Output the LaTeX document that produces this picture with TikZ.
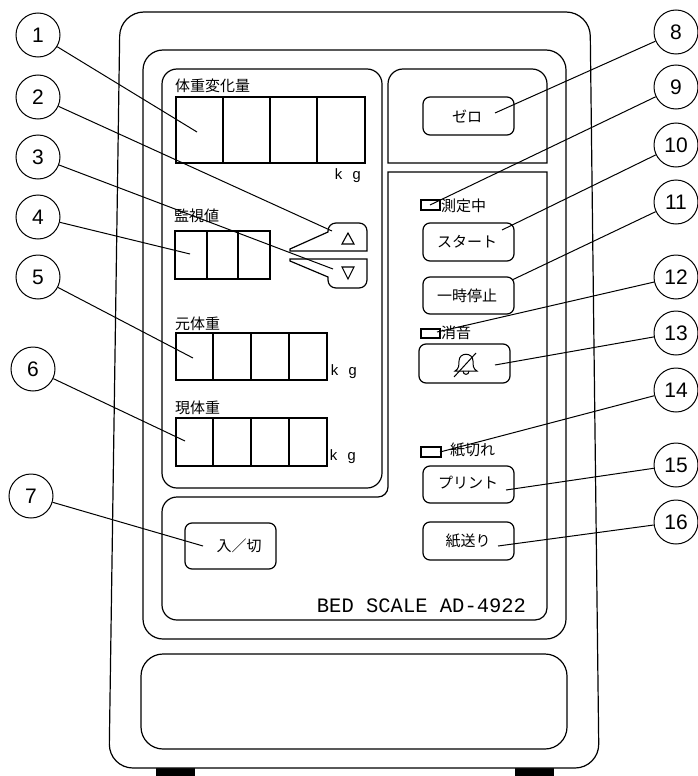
\documentclass[tikz,border=0pt]{standalone}
\usepackage{fontspec}
\newfontfamily\jpf{Noto Sans CJK JP}
\newfontfamily\numf{Liberation Sans}
\newfontfamily\monof{Liberation Mono}
\begin{document}
\begin{tikzpicture}[x=1pt,y=-1pt,
  ln/.style={line width=1.2pt},
  circ/.style={circle,draw,line width=1pt,minimum size=44pt,inner sep=0pt,font=\numf\fontsize{21}{21}\selectfont},
  lead/.style={line width=1pt},
  btn/.style={draw,line width=1.2pt,rounded corners=7pt},
  led/.style={draw,line width=1.2pt},
  jlab/.style={font=\jpf\fontsize{15}{15}\selectfont,inner sep=0pt},
  kg/.style={font=\monof\fontsize{15}{15}\selectfont,inner sep=0pt},
]
\useasboundingbox (0,0) rectangle (697,776);
% feet
\fill (156,766) rectangle (195,776);
\fill (515,766) rectangle (554,776);
% outer body
\draw[ln,fill=white,rounded corners=24pt] (120,12) -- (590,12) -- (599,768) -- (109,768) -- cycle;
% middle frame
\draw[ln,rounded corners=20pt] (143,50) rectangle (566,639);
% left display panel
\draw[ln,rounded corners=15pt] (162,69) rectangle (382,488);
% top right panel
\draw[ln] (388,163) -- (388,84) .. controls (388,75.7) and (394.7,69) .. (403,69) -- (532,69) .. controls (540.3,69) and (547,75.7) .. (547,84) -- (547,163) -- cycle;
% lower right L panel
\draw[ln] (388,172) -- (547,172) -- (547,608) .. controls (547,614.6) and (541.6,620) .. (535,620) -- (177,620) .. controls (168.7,620) and (162,613.3) .. (162,605) -- (162,512) .. controls (162,503.7) and (168.7,497) .. (177,497) -- (378,497) .. controls (383.5,497) and (388,492.5) .. (388,487) -- cycle;
% bottom window
\draw[ln,rounded corners=22pt] (141,654) rectangle (567,749);

% displays
\draw[ln] (176,97) rectangle (365,163) (223,97) -- (223,163) (270,97) -- (270,163) (317,97) -- (317,163);
\draw[ln] (175,231) rectangle (270,279) (207,231) -- (207,279) (238,231) -- (238,279);
\draw[ln] (176,333) rectangle (327,380) (213,333) -- (213,380) (251,333) -- (251,380) (289,333) -- (289,380);
\draw[ln] (176,418) rectangle (327,466) (213,418) -- (213,466) (251,418) -- (251,466) (289,418) -- (289,466);

\node[jlab,anchor=west] (l1) at (175,86) {体重変化量};
\node[jlab,anchor=west] (l2) at (174,216) {監視値};
\node[jlab,anchor=west] (l3) at (175,324) {元体重};
\node[jlab,anchor=west] (l4) at (175,408) {現体重};
\node[kg,anchor=west] (k1) at (334,176) {k g};
\node[kg,anchor=west] (k2) at (330,372) {k g};
\node[kg,anchor=west] (k3) at (329,457) {k g};

% up / down buttons
\draw[ln] (290,251) -- (367,251) -- (367,231) .. controls (367,226.5) and (363.5,223) .. (359,223) -- (336,223) .. controls (331.5,223) and (328,226.5) .. (328,231) -- (328,232) -- (290,249) -- cycle;
\draw[ln] (290,259) -- (367,259) -- (367,280) .. controls (367,284.5) and (363.5,288) .. (359,288) -- (336,288) .. controls (331.5,288) and (328,284.5) .. (328,280) -- (328,277) -- (290,261) -- cycle;
\draw[line width=1.1pt] (342,244) -- (354,244) -- (348,233) -- cycle;
\draw[line width=1.1pt] (342,267) -- (354,267) -- (348,279) -- cycle;

% buttons
\draw[btn] (423,97) rectangle (514,135);
\node[jlab] (bz) at (467,116) {ゼロ};
\draw[btn] (423,223) rectangle (514,261);
\node[jlab] (bs) at (467,242) {スタート};
\draw[btn] (423,277) rectangle (514,314);
\node[jlab] (bp) at (467,296) {一時停止};
\draw[btn] (419,344) rectangle (510,383);
\draw[btn] (423,466) rectangle (514,503);
\node[jlab] (bpr) at (468,483) {プリント};
\draw[btn] (423,522) rectangle (514,560);
\node[jlab] (bf) at (468,541) {紙送り};
\draw[btn] (185,523) rectangle (276,569);
\node[jlab] (bo) at (239,546) {入／切};

% bell icon
\draw[line width=1pt] (455,371) .. controls (459,369) and (459,365) .. (459,361) .. controls (459,352) and (473,352) .. (473,361) .. controls (473,365) and (473,369) .. (477,371) -- cycle;
\draw[line width=1pt] (463,371) .. controls (463,375.5) and (469,375.5) .. (469,371);
\draw[line width=1pt] (454,377) -- (476,353);

% LEDs
\draw[led] (421,200) rectangle (440,210);
\node[jlab,anchor=west] (m1) at (441,206) {測定中};
\draw[led] (421,329) rectangle (440,338);
\node[jlab,anchor=west] (m2) at (441,333) {消音};
\draw[led] (421,447) rectangle (441,457);
\node[jlab,anchor=west] (m3) at (450,450) {紙切れ};

\node[font=\monof\fontsize{20.5}{20.5}\selectfont,inner sep=0pt] (model) at (421.5,606) {BED SCALE AD-4922};

% callout circles
\node[circ] (c1) at (38,35) {1};
\node[circ] (c2) at (38,97) {2};
\node[circ] (c3) at (38,157) {3};
\node[circ] (c4) at (38,217) {4};
\node[circ] (c5) at (38,277) {5};
\node[circ] (c6) at (33,369) {6};
\node[circ] (c7) at (31,496) {7};
\node[circ] (c8) at (676,32) {8};
\node[circ] (c9) at (676,87) {9};
\node[circ] (c10) at (676,145) {10};
\node[circ] (c11) at (676,202) {11};
\node[circ] (c12) at (676,277) {12};
\node[circ] (c13) at (676,333) {13};
\node[circ] (c14) at (676,390) {14};
\node[circ] (c15) at (676,465) {15};
\node[circ] (c16) at (676,522) {16};

% targets
\coordinate (t1) at (197,132);
\coordinate (t2) at (332,231);
\coordinate (t3) at (333,269);
\coordinate (t4) at (190,254);
\coordinate (t5) at (193,358);
\coordinate (t6) at (185,441);
\coordinate (t7) at (203,546);
\coordinate (t8) at (495,113);
\coordinate (t9) at (430,205);
\coordinate (t10) at (502,230);
\coordinate (t11) at (512,280);
\coordinate (t12) at (437,332);
\coordinate (t13) at (495,365);
\coordinate (t14) at (440,452);
\coordinate (t15) at (506,490);
\coordinate (t16) at (498,546);

\foreach \i in {1,...,16} { \draw[lead] (c\i) -- (t\i); }
\end{tikzpicture}
\end{document}
